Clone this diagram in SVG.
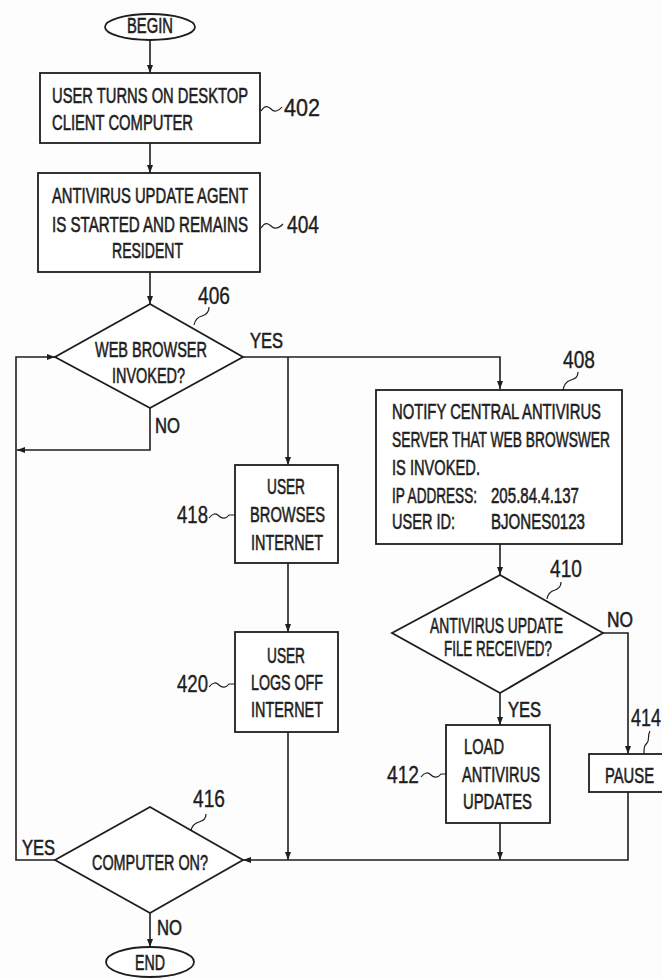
<svg xmlns="http://www.w3.org/2000/svg" width="662" height="979" viewBox="0 0 662 979">
<defs>
<marker id="ah" markerUnits="userSpaceOnUse" markerWidth="9" markerHeight="7" refX="8" refY="3.5" orient="auto">
<path d="M0,0.5 L8,3.5 L0,6.5 z" fill="#1e1e1e"/>
</marker>
<style>
.s{fill:#fff;stroke:#1e1e1e;stroke-width:1.8}
.c{fill:none;stroke:#1e1e1e;stroke-width:1.6}
.l{fill:none;stroke:#1e1e1e;stroke-width:1.2}
text{font-family:"Liberation Sans",Arial,sans-serif;fill:#1e1e1e;stroke:#1e1e1e;stroke-width:0.4}
.t{font-size:14.7px}
.d{font-size:19px;stroke-width:0.3}
</style>
</defs>
<rect width="662" height="979" fill="#fdfdfd"/>
<g id="connectors">
<path class="c" d="M150,40 V73" marker-end="url(#ah)"/>
<path class="c" d="M150,143 V173" marker-end="url(#ah)"/>
<path class="c" d="M150,272 V304" marker-end="url(#ah)"/>
<path class="c" d="M243,357 H500 V389" marker-end="url(#ah)"/>
<path class="c" d="M288,357 V465" marker-end="url(#ah)"/>
<path class="c" d="M288,563 V632" marker-end="url(#ah)"/>
<path class="c" d="M150,408 V450 H17" marker-end="url(#ah)"/>
<path class="c" d="M55,860 H16 V357 H55" marker-end="url(#ah)"/>
<path class="c" d="M288,732 V860" marker-end="url(#ah)"/>
<path class="c" d="M500,544 V575" marker-end="url(#ah)"/>
<path class="c" d="M500,693 V725" marker-end="url(#ah)"/>
<path class="c" d="M603,633 H628 V754" marker-end="url(#ah)"/>
<path class="c" d="M628,792 V860 H243" marker-end="url(#ah)"/>
<path class="c" d="M500,823 V860" marker-end="url(#ah)"/>
<path class="c" d="M150,913 V947" marker-end="url(#ah)"/>
<text class="t" x="250" y="348" transform="translate(0,-174) scale(1,1.5)" textLength="33" lengthAdjust="spacingAndGlyphs">YES</text>
<text class="t" x="155" y="433" transform="translate(0,-216.5) scale(1,1.5)" textLength="25" lengthAdjust="spacingAndGlyphs">NO</text>
<text class="t" x="607" y="627" transform="translate(0,-313.5) scale(1,1.5)" textLength="26" lengthAdjust="spacingAndGlyphs">NO</text>
<text class="t" x="508" y="717" transform="translate(0,-358.5) scale(1,1.5)" textLength="33" lengthAdjust="spacingAndGlyphs">YES</text>
<text class="t" x="22" y="855" transform="translate(0,-427.5) scale(1,1.5)" textLength="33" lengthAdjust="spacingAndGlyphs">YES</text>
<text class="t" x="157" y="935" transform="translate(0,-467.5) scale(1,1.5)" textLength="25" lengthAdjust="spacingAndGlyphs">NO</text>
</g>
<g id="begin">
<ellipse class="s" cx="150" cy="27" rx="45" ry="13"/>
<text class="t" x="127" y="33" transform="translate(0,-16.5) scale(1,1.5)" textLength="46" lengthAdjust="spacingAndGlyphs">BEGIN</text>
</g>
<g id="n402">
<rect class="s" x="40" y="73" width="220" height="70"/>
<text class="t" x="52" y="103" transform="translate(0,-51.5) scale(1,1.5)" textLength="196" lengthAdjust="spacingAndGlyphs">USER TURNS ON DESKTOP</text>
<text class="t" x="52" y="130" transform="translate(0,-65) scale(1,1.5)" textLength="141" lengthAdjust="spacingAndGlyphs">CLIENT COMPUTER</text>
<path class="l" d="M261,111 c4,-6 7,-5 10,-2 s7,3 11,-2"/>
<text class="d" x="284" y="116" transform="translate(0,-29) scale(1,1.25)" textLength="36" lengthAdjust="spacingAndGlyphs">402</text>
</g>
<g id="n404">
<rect class="s" x="38" y="173" width="222" height="99"/>
<text class="t" x="52" y="203" transform="translate(0,-101.5) scale(1,1.5)" textLength="196" lengthAdjust="spacingAndGlyphs">ANTIVIRUS UPDATE AGENT</text>
<text class="t" x="52" y="232" transform="translate(0,-116) scale(1,1.5)" textLength="196" lengthAdjust="spacingAndGlyphs">IS STARTED AND REMAINS</text>
<text class="t" x="112" y="258" transform="translate(0,-129) scale(1,1.5)" textLength="71" lengthAdjust="spacingAndGlyphs">RESIDENT</text>
<path class="l" d="M261,228 c4,-6 7,-5 10,-2 s7,3 12,-2"/>
<text class="d" x="287" y="233" transform="translate(0,-58.25) scale(1,1.25)" textLength="32" lengthAdjust="spacingAndGlyphs">404</text>
</g>
<g id="n406">
<path class="s" d="M150,304 L243,357 L150,408 L55,357 z"/>
<text class="t" x="95" y="357" transform="translate(0,-178.5) scale(1,1.5)" textLength="112" lengthAdjust="spacingAndGlyphs">WEB BROWSER</text>
<text class="t" x="112" y="383" transform="translate(0,-191.5) scale(1,1.5)" textLength="73" lengthAdjust="spacingAndGlyphs">INVOKED?</text>
<path class="l" d="M209,307 c0,5 -3,8 -7,9 c-4,1 -7,4 -8,9"/>
<text class="d" x="198" y="304" transform="translate(0,-76) scale(1,1.25)" textLength="32" lengthAdjust="spacingAndGlyphs">406</text>
</g>
<g id="n408">
<rect class="s" x="376" y="390" width="246" height="154"/>
<text class="t" x="392" y="419" transform="translate(0,-209.5) scale(1,1.5)" textLength="209" lengthAdjust="spacingAndGlyphs">NOTIFY CENTRAL ANTIVIRUS</text>
<text class="t" x="392" y="447" transform="translate(0,-223.5) scale(1,1.5)" textLength="218" lengthAdjust="spacingAndGlyphs">SERVER THAT WEB BROWSWER</text>
<text class="t" x="392" y="475" transform="translate(0,-237.5) scale(1,1.5)" textLength="88" lengthAdjust="spacingAndGlyphs">IS INVOKED.</text>
<text class="t" x="392" y="503" transform="translate(0,-251.5) scale(1,1.5)" textLength="85" lengthAdjust="spacingAndGlyphs">IP ADDRESS:</text>
<text class="t" x="491" y="503" transform="translate(0,-251.5) scale(1,1.5)" textLength="88" lengthAdjust="spacingAndGlyphs">205.84.4.137</text>
<text class="t" x="392" y="529" transform="translate(0,-264.5) scale(1,1.5)" textLength="63" lengthAdjust="spacingAndGlyphs">USER ID:</text>
<text class="t" x="491" y="529" transform="translate(0,-264.5) scale(1,1.5)" textLength="94" lengthAdjust="spacingAndGlyphs">BJONES0123</text>
<path class="l" d="M578,372 c0,5 -3,7 -7,8 c-4,1 -7,4 -8,10"/>
<text class="d" x="563" y="368" transform="translate(0,-92) scale(1,1.25)" textLength="32" lengthAdjust="spacingAndGlyphs">408</text>
</g>
<g id="n418">
<rect class="s" x="235" y="465" width="103" height="98"/>
<text class="t" x="267" y="494" transform="translate(0,-247) scale(1,1.5)" textLength="38" lengthAdjust="spacingAndGlyphs">USER</text>
<text class="t" x="250" y="522" transform="translate(0,-261) scale(1,1.5)" textLength="75" lengthAdjust="spacingAndGlyphs">BROWSES</text>
<text class="t" x="251" y="550" transform="translate(0,-275) scale(1,1.5)" textLength="72" lengthAdjust="spacingAndGlyphs">INTERNET</text>
<path class="l" d="M209,518 c4,-5 7,-5 10,-2 s7,3 10,-1 l6,0"/>
<text class="d" x="177" y="523" transform="translate(0,-130.75) scale(1,1.25)" textLength="31" lengthAdjust="spacingAndGlyphs">418</text>
</g>
<g id="n410">
<path class="s" d="M500,575 L603,633 L500,693 L392,633 z"/>
<text class="t" x="430" y="633" transform="translate(0,-316.5) scale(1,1.5)" textLength="133" lengthAdjust="spacingAndGlyphs">ANTIVIRUS UPDATE</text>
<text class="t" x="444" y="656" transform="translate(0,-328) scale(1,1.5)" textLength="108" lengthAdjust="spacingAndGlyphs">FILE RECEIVED?</text>
<path class="l" d="M561,582 c0,5 -3,7 -6,8 c-4,1 -7,3 -8,9"/>
<text class="d" x="550" y="577" transform="translate(0,-144.25) scale(1,1.25)" textLength="32" lengthAdjust="spacingAndGlyphs">410</text>
</g>
<g id="n420">
<rect class="s" x="235" y="632" width="103" height="100"/>
<text class="t" x="267" y="663" transform="translate(0,-331.5) scale(1,1.5)" textLength="38" lengthAdjust="spacingAndGlyphs">USER</text>
<text class="t" x="251" y="690" transform="translate(0,-345) scale(1,1.5)" textLength="72" lengthAdjust="spacingAndGlyphs">LOGS OFF</text>
<text class="t" x="251" y="717" transform="translate(0,-358.5) scale(1,1.5)" textLength="72" lengthAdjust="spacingAndGlyphs">INTERNET</text>
<path class="l" d="M209,687 c4,-5 7,-5 10,-2 s7,3 10,-1 l6,0"/>
<text class="d" x="177" y="692" transform="translate(0,-173) scale(1,1.25)" textLength="31" lengthAdjust="spacingAndGlyphs">420</text>
</g>
<g id="n412">
<rect class="s" x="446" y="725" width="104" height="98"/>
<text class="t" x="464" y="754" transform="translate(0,-377) scale(1,1.5)" textLength="40" lengthAdjust="spacingAndGlyphs">LOAD</text>
<text class="t" x="462" y="782" transform="translate(0,-391) scale(1,1.5)" textLength="78" lengthAdjust="spacingAndGlyphs">ANTIVIRUS</text>
<text class="t" x="463" y="809" transform="translate(0,-404.5) scale(1,1.5)" textLength="69" lengthAdjust="spacingAndGlyphs">UPDATES</text>
<path class="l" d="M421,777 c4,-5 7,-5 10,-2 s7,3 10,-1 l5,0"/>
<text class="d" x="387" y="783" transform="translate(0,-195.75) scale(1,1.25)" textLength="32" lengthAdjust="spacingAndGlyphs">412</text>
</g>
<g id="n414">
<rect class="s" x="589" y="754" width="80" height="38"/>
<text class="t" x="605" y="783" transform="translate(0,-391.5) scale(1,1.5)" textLength="49" lengthAdjust="spacingAndGlyphs">PAUSE</text>
<path class="l" d="M650,731 c-3,5 0,9 -3,12 c-3,3 -3,5 -3,11"/>
<text class="d" x="631" y="726" transform="translate(0,-181.5) scale(1,1.25)" textLength="30" lengthAdjust="spacingAndGlyphs">414</text>
</g>
<g id="n416">
<path class="s" d="M150,807 L243,860 L150,913 L55,860 z"/>
<text class="t" x="92" y="870" transform="translate(0,-435) scale(1,1.5)" textLength="116" lengthAdjust="spacingAndGlyphs">COMPUTER ON?</text>
<path class="l" d="M206,814 c0,5 -3,7 -7,8 c-4,1 -7,3 -8,9"/>
<text class="d" x="193" y="807" transform="translate(0,-201.75) scale(1,1.25)" textLength="32" lengthAdjust="spacingAndGlyphs">416</text>
</g>
<g id="end">
<ellipse class="s" cx="150" cy="962" rx="44" ry="15"/>
<text class="t" x="135" y="970" transform="translate(0,-485) scale(1,1.5)" textLength="30" lengthAdjust="spacingAndGlyphs">END</text>
</g>
</svg>
